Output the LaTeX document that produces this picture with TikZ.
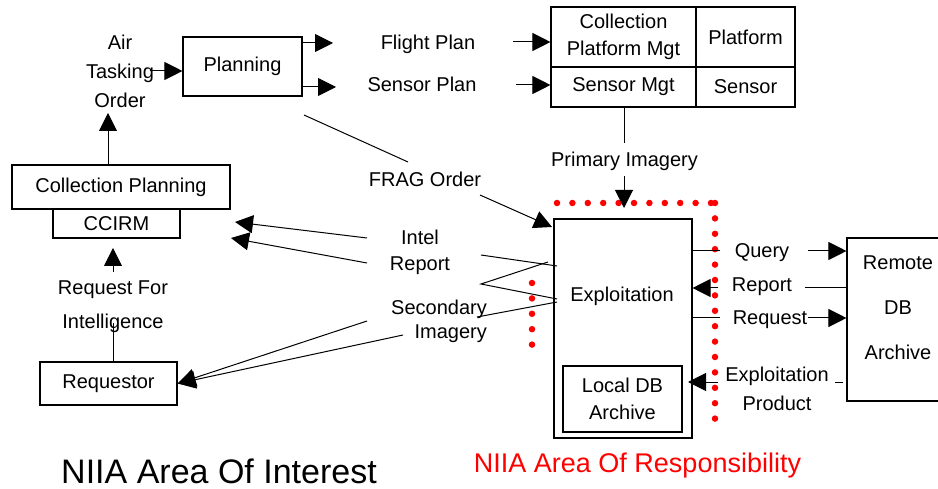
\documentclass[tikz,border=0pt]{standalone}
\usepackage{fontspec}
\setmainfont{Liberation Sans}
\usetikzlibrary{arrows.meta}
\begin{document}
\begin{tikzpicture}[x=1pt,y=-1pt,
  box/.style={draw, line width=1.1pt, inner sep=0, font=\fontsize{20}{24}\selectfont, align=center},
  txt/.style={inner sep=0, font=\fontsize{20}{24}\selectfont, align=center},
  arr/.style={line width=1pt, -{Triangle[length=18pt,width=18pt]}},
  ln/.style={line width=1pt},
  reddots/.style={red, line width=6.5pt, line cap=round, dash pattern=on 0pt off 15.4pt}]
\clip (0,0) rectangle (938,489);
\fill[white] (0,0) rectangle (938,489);

% boxes
\node[box, minimum width=119pt, minimum height=59pt] (planning) at (242.5,66.5) {Planning};
\node[box, minimum width=218pt, minimum height=44pt] (colplan) at (121,187) {Collection Planning};
\node[box, minimum width=127pt, minimum height=29pt] (ccirm) at (116.5,223.5) {CCIRM};
\node[box, minimum width=137pt, minimum height=43pt] (requestor) at (108.5,383.5) {Requestor};
\node[box, minimum width=145pt, minimum height=60pt, font=\fontsize{20}{27}\selectfont] (cpm) at (623.5,37) {Collection\\Platform Mgt};
\node[box, minimum width=99pt, minimum height=60pt] (plat) at (745.5,37) {Platform};
\node[box, minimum width=145pt, minimum height=40pt] (smgt) at (623.5,87) {Sensor Mgt};
\node[box, minimum width=99pt, minimum height=40pt] (sens) at (745.5,87) {Sensor};
\node[box, minimum width=138pt, minimum height=219pt] (exploit) at (623,328.5) {};
\node[txt, anchor=base] (exptxt) at (622,302) {Exploitation};
\node[box, minimum width=119pt, minimum height=66pt, font=\fontsize{20}{27}\selectfont] (localdb) at (622.5,399) {Local DB\\Archive};
\node[box, minimum width=102pt, minimum height=163pt] (remote) at (898,319.5) {};
\node[txt, anchor=north, font=\fontsize{20}{45}\selectfont] (remtxt) at (898,255.5) {Remote\\DB\\Archive};

% labels
\node[txt, anchor=north, font=\fontsize{20}{29}\selectfont] (ato) at (120,34.5) {Air\\Tasking\\Order};
\node[txt, anchor=base] (fp) at (428,50) {Flight Plan};
\node[txt, anchor=base] (sp) at (422,92) {Sensor Plan};
\node[txt, anchor=base] (pi) at (624.5,167) {Primary Imagery};
\node[txt, anchor=base] (frag) at (425,187) {FRAG Order};
\node[txt, anchor=north, font=\fontsize{20}{26}\selectfont] (intel) at (420,229.5) {Intel\\Report};
\node[txt, anchor=north east, align=right, font=\fontsize{20}{24}\selectfont] (secimg) at (487,299.5) {Secondary\\Imagery};
\node[txt, anchor=north, font=\fontsize{20}{34}\selectfont] (rfi) at (113,280.5) {Request For\\Intelligence};
\node[txt, anchor=base] (query) at (762,258) {Query};
\node[txt, anchor=base] (report) at (762,292) {Report};
\node[txt, anchor=base] (request) at (770,325) {Request};
\node[txt, anchor=north, font=\fontsize{20}{29}\selectfont] (expprod) at (777,366.5) {Exploitation\\Product};
\node[inner sep=0, anchor=base, font=\fontsize{34}{40}\selectfont] (aoi) at (219,483) {NIIA Area Of Interest};
\node[inner sep=0, anchor=base, text=red, font=\fontsize{27}{32}\selectfont] (aor) at (637.5,472) {NIIA Area Of Responsibility};

% red dotted boundary
\draw[reddots] (557,203) -- (711,203);
\draw[reddots] (715,203) -- (715,433);
\draw[reddots] (532,283) -- (532,346);

% coordinates
\coordinate (atoR) at (150,71);
\coordinate (atoB) at (108,113);
\coordinate (fpA) at (333,43);
\coordinate (spA) at (336,87);
\coordinate (fpB) at (513,42);
\coordinate (spB) at (516,85);
\coordinate (piA) at (624,143);
\coordinate (piB) at (624,176);
\coordinate (piC) at (624,208);
\coordinate (frA) at (304,115);
\coordinate (frB) at (408,162);
\coordinate (frC) at (480,195);
\coordinate (frD) at (552,227);
\coordinate (irA) at (367,238);
\coordinate (irB) at (235,222);
\coordinate (irC) at (367,263);
\coordinate (irD) at (231,238);
\coordinate (irE) at (481,255);
\coordinate (irF) at (557,266);
\coordinate (irG) at (481,284);
\coordinate (irH) at (548,262);
\coordinate (irI) at (557,299);
\coordinate (siA) at (367,321);
\coordinate (siB) at (403,335);
\coordinate (siC) at (477,317);
\coordinate (siD) at (557,302);
\coordinate (qA) at (720,251);
\coordinate (qB) at (808,251);
\coordinate (rpA) at (805,288);
\coordinate (rpB) at (718,288);
\coordinate (rqA) at (720,318);
\coordinate (rqB) at (808,318);
\coordinate (epA) at (835,382);
\coordinate (epB) at (843,382);
\coordinate (epC) at (718,382);
\coordinate (epD) at (688,382);
\coordinate (rfA) at (113,272);
\coordinate (rfB) at (113,248);
\coordinate (rfC) at (113,323);

% connectors
\draw[arr] (atoR) -- (atoR -| planning.west);
\draw[arr] (atoB |- colplan.north) -- (atoB);
\draw[arr] (fpA -| planning.east) -- (fpA);
\draw[arr] (spA -| planning.east) -- (spA);
\draw[arr] (fpB) -- (fpB -| cpm.west);
\draw[arr] (spB) -- (spB -| smgt.west);
\draw[ln] (piA |- smgt.south) -- (piA);
\draw[arr] (piB) -- (piC);
\draw[ln] (frA) -- (frB);
\draw[arr] (frC) -- (frD);
\draw[arr] (irA) -- (irB);
\draw[arr] (irC) -- (irD);
\draw[ln] (irE) -- (irF);
\draw[ln] (irH) -- (irG) -- (irI);
\draw[ln] (siC) -- (siD);
\draw[arr] (siA) -- (requestor.east);
\draw[arr] (siB) -- (requestor.east);
\draw[ln] (qA -| exploit.east) -- (qA);
\draw[arr] (qB) -- (qB -| remote.west);
\draw[ln] (rpA -| remote.west) -- (rpA);
\draw[arr] (rpB) -- (rpB -| exploit.east);
\draw[ln] (rqA -| exploit.east) -- (rqA);
\draw[arr] (rqB) -- (rqB -| remote.west);
\draw[ln] (epA) -- (epB);
\draw[arr] (epC) -- (epD);
\draw[arr] (rfA) -- (rfB);
\draw[ln] (rfC |- requestor.north) -- (rfC);
\end{tikzpicture}
\end{document}
